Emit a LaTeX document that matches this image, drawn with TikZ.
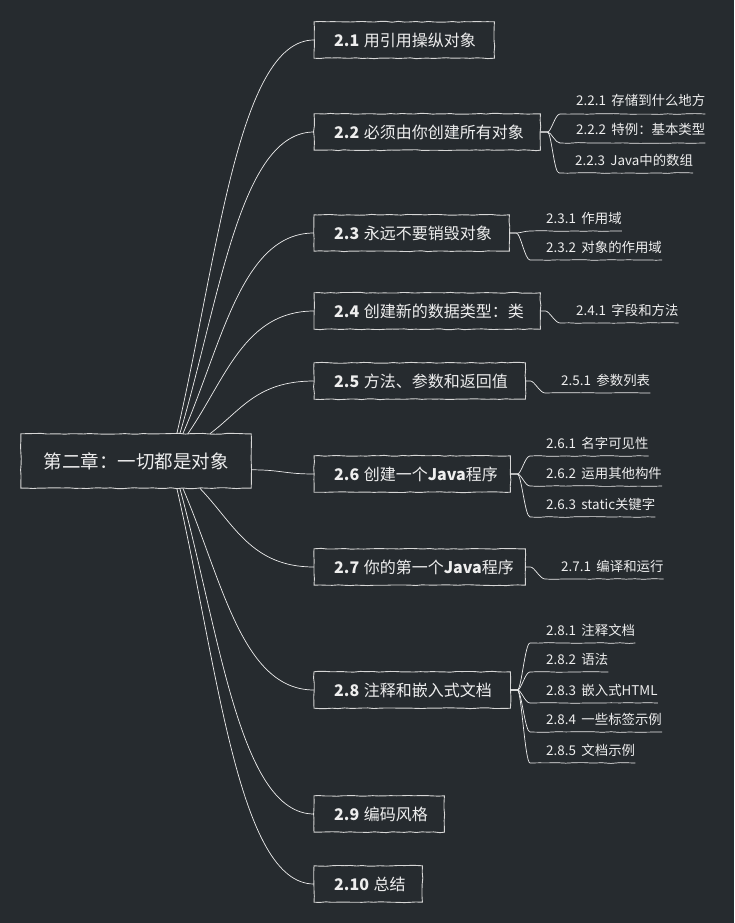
\documentclass[tikz,border=0pt]{standalone}
\usepackage{fontspec}
\setmainfont{Noto Sans CJK SC}
\usetikzlibrary{decorations.pathmorphing,calc}
\definecolor{bg}{RGB}{38,43,47}
\definecolor{ink}{RGB}{238,238,238}
\definecolor{edge}{RGB}{214,214,214}
\newcommand\mysub[4]{%
  \node[sub] (#1) at (#2,#3-8) {\hspace{16pt}#4\hspace{10pt}};%
  \coordinate (#1s) at ($(#1.base west)+(0,8)$);%
  \coordinate (#1e) at ($(#1.base east)+(0,8)$);%
  \draw[conn,wob] (#1s) -- (#1e);%
}
\newcommand\myfan[3]{%
  \draw[conn] (#1.east) -- ++(#2,0) .. controls +(4,0) and +(-5,0) .. (#3s);%
}
\newcommand\myframe[1]{%
  \draw[draw=edge,line width=0.9pt,boxwob] (#1.north west) rectangle (#1.south east);%
}
\newcommand\gap{\hspace{4.5pt}}
\newcommand\sgap{\hspace{5.5pt}}
\begin{document}
\begin{tikzpicture}[x=1pt,y=-1pt,
  boxwob/.style={decorate,decoration={random steps,segment length=6pt,amplitude=0.45pt}},
  wob/.style={decorate,decoration={random steps,segment length=9pt,amplitude=0.4pt}},
  root/.style={fill=bg,text=ink,
    minimum width=230pt,minimum height=54pt,inner sep=0pt,font=\fontsize{18.5}{22}\selectfont},
  topic/.style={fill=bg,text=ink,
    minimum height=36pt,inner xsep=20pt,inner ysep=0pt,anchor=west,font=\fontsize{16}{19}\selectfont},
  sub/.style={text=ink,inner sep=0pt,anchor=base west,font=\fontsize{13.4}{16}\selectfont},
  conn/.style={draw=ink,line width=0.7pt},
]
\pgfmathsetseed{7}
\useasboundingbox (0,0) rectangle (734,923);
\fill[bg] (0,0) rectangle (734,923);

% root
\node[root] (c) at (136,461) {第二章：一切都是对象};

% level 1 topics
\node[topic] (t1) at (314,40) {\makebox[140pt][l]{\textbf{2.1}\gap 用引用操纵对象}};
\node[topic] (t2) at (314,132) {\makebox[186pt][l]{\textbf{2.2}\gap 必须由你创建所有对象}};
\node[topic] (t3) at (314,233) {\makebox[155pt][l]{\textbf{2.3}\gap 永远不要销毁对象}};
\node[topic] (t4) at (314,311) {\makebox[186pt][l]{\textbf{2.4}\gap 创建新的数据类型：类}};
\node[topic] (t5) at (314,381) {\makebox[171pt][l]{\textbf{2.5}\gap 方法、参数和返回值}};
\node[topic] (t6) at (314,474) {\makebox[156pt][l]{\textbf{2.6}\gap 创建一个\textbf{Java}程序}};
\node[topic] (t7) at (314,567) {\makebox[171pt][l]{\textbf{2.7}\gap 你的第一个\textbf{Java}程序}};
\node[topic] (t8) at (314,690) {\makebox[156pt][l]{\textbf{2.8}\gap 注释和嵌入式文档}};
\node[topic] (t9) at (314,814) {\makebox[90pt][l]{\textbf{2.9}\gap 编码风格}};
\node[topic] (t10) at (314,884) {\makebox[68pt][l]{\textbf{2.10}\gap 总结}};
\myframe{c}
\myframe{t1}\myframe{t2}\myframe{t3}\myframe{t4}\myframe{t5}
\myframe{t6}\myframe{t7}\myframe{t8}\myframe{t9}\myframe{t10}

% root connectors
\draw[conn] ($(c.north west)+(156,0)$) .. controls (217.8,257.3) and (238.2,40) .. (t1.west);
\draw[conn] ($(c.north west)+(159,0)$) .. controls (219.9,298.7) and (239.9,132) .. (t2.west);
\draw[conn] ($(c.north west)+(162,0)$) .. controls (222,344.1) and (241.5,233) .. (t3.west);
\draw[conn] ($(c.north west)+(167,0)$) .. controls (225.5,379.2) and (244.3,311) .. (t4.west);
\draw[conn] ($(c.north west)+(189,0)$) .. controls (240.9,410.7) and (256.4,381) .. (t5.west);
\draw[conn] ($(c.north east)+(0,36)$) .. controls +(30,0) and +(-30,0) .. (t6.west);
\draw[conn] ($(c.south west)+(179,0)$) .. controls (233.9,523.6) and (250.9,567) .. (t7.west);
\draw[conn] ($(c.south west)+(162,0)$) .. controls (222,578.9) and (241.5,690) .. (t8.west);
\draw[conn] ($(c.south west)+(159,0)$) .. controls (219.9,634.7) and (239.9,814) .. (t9.west);
\draw[conn] ($(c.south west)+(156,0)$) .. controls (217.8,666.2) and (238.2,884) .. (t10.west);

% level 2
\mysub{a221}{560}{114}{2.2.1\sgap 存储到什么地方}
\mysub{a222}{560}{143}{2.2.2\sgap 特例：基本类型}
\mysub{a223}{559}{173}{2.2.3\sgap Java中的数组}
\myfan{t2}{7}{a221}
\myfan{t2}{7}{a222}
\myfan{t2}{7}{a223}

\mysub{a231}{530}{231}{2.3.1\sgap 作用域}
\mysub{a232}{530}{260}{2.3.2\sgap 对象的作用域}
\myfan{t3}{7}{a231}
\myfan{t3}{7}{a232}

\mysub{a241}{560}{323}{2.4.1\sgap 字段和方法}
\myfan{t4}{5}{a241}

\mysub{a251}{545}{393}{2.5.1\sgap 参数列表}
\myfan{t5}{5}{a251}

\mysub{a261}{530}{456}{2.6.1\sgap 名字可见性}
\mysub{a262}{530}{486}{2.6.2\sgap 运用其他构件}
\mysub{a263}{530}{517}{2.6.3\sgap static关键字}
\myfan{t6}{7}{a261}
\myfan{t6}{7}{a262}
\myfan{t6}{7}{a263}

\mysub{a271}{545}{579}{2.7.1\sgap 编译和运行}
\myfan{t7}{5}{a271}

\mysub{a281}{530}{643}{2.8.1\sgap 注释文档}
\mysub{a282}{530}{672}{2.8.2\sgap 语法}
\mysub{a283}{530}{703}{2.8.3\sgap 嵌入式HTML}
\mysub{a284}{530}{732}{2.8.4\sgap 一些标签示例}
\mysub{a285}{530}{763}{2.8.5\sgap 文档示例}
\myfan{t8}{7}{a281}
\myfan{t8}{7}{a282}
\myfan{t8}{7}{a283}
\myfan{t8}{7}{a284}
\myfan{t8}{7}{a285}
\end{tikzpicture}
\end{document}
